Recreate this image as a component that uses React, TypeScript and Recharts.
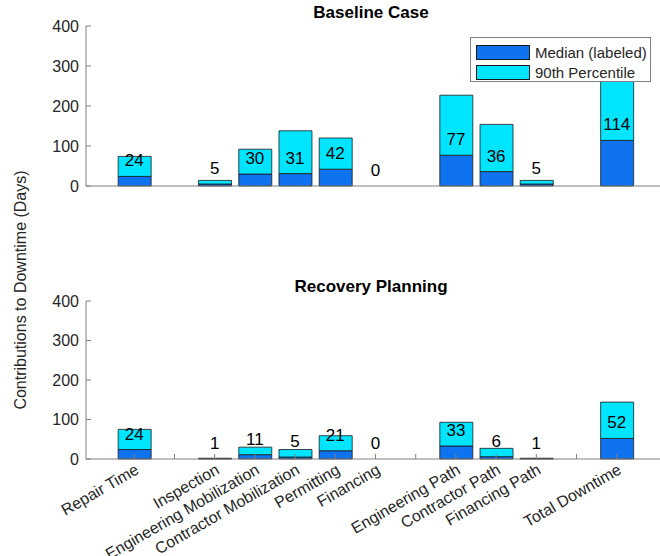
import React from 'react';
import { ComposedChart, Bar, Line, XAxis, YAxis, LabelList, Legend } from 'recharts';

const categories = [
  'Repair Time',
  'Inspection',
  'Engineering Mobilization',
  'Contractor Mobilization',
  'Permitting',
  'Financing',
  'Engineering Path',
  'Contractor Path',
  'Financing Path',
  'Total Downtime',
];
// slot on the x axis (gaps at 2, 8 and 12)
const positions = [1, 3, 4, 5, 6, 7, 9, 10, 11, 13];
const xTicks = [1, 2, 3, 4, 5, 6, 7, 8, 9, 10, 11, 12, 13];
const yTicks = [0, 100, 200, 300, 400];

const baselineMedian = [24, 5, 30, 31, 42, 0, 77, 36, 5, 114];
const baselineP90 = [74, 14, 92, 138, 120, 0, 227, 154, 14, 290];
const recoveryMedian = [24, 1, 11, 5, 21, 0, 33, 6, 1, 52];
const recoveryP90 = [75, 2, 30, 24, 59, 0, 93, 27, 2, 144];

const legendOrder = ['Median (labeled)', '90th Percentile'];

const MEDIAN_COLOR = '#0f72ee';
const P90_COLOR = '#00e5ff';
const EDGE = '#1a1a1a';
const AXIS = '#808080';
const FONT = '"Liberation Sans", Arial, sans-serif';

const buildRows = (median: number[], p90: number[]) =>
  positions.map((pos, i) => ({
    pos,
    name: categories[i],
    median: median[i],
    // the 90th percentile bar sits behind the median one, so stack the remainder
    rest: p90[i] - median[i],
  }));

const baselineData = buildRows(baselineMedian, baselineP90);
const recoveryData = buildRows(recoveryMedian, recoveryP90);

const tickName = (v: number) => {
  const i = positions.indexOf(v);
  return i >= 0 ? categories[i] : '';
};

const renderLegend = (props: any) => {
  const items = (props.payload || [])
    .filter((p: any) => legendOrder.includes(p.value))
    .sort((a: any, b: any) => legendOrder.indexOf(a.value) - legendOrder.indexOf(b.value));
  return (
    <div
      style={{
        boxSizing: 'border-box',
        width: 181,
        height: 45,
        border: `1px solid ${AXIS}`,
        background: '#fff',
        paddingTop: 4,
        paddingLeft: 5,
        fontFamily: FONT,
        fontSize: 15,
        color: '#262626',
      }}
    >
      {items.map((entry: any) => (
        <div key={entry.value} style={{ display: 'flex', alignItems: 'center', height: 20 }}>
          <span
            style={{
              boxSizing: 'border-box',
              display: 'inline-block',
              width: 54,
              height: 15,
              background: entry.color,
              border: `1px solid ${EDGE}`,
              marginRight: 5,
            }}
          />
          <span style={{ whiteSpace: 'nowrap' }}>{entry.value}</span>
        </div>
      ))}
    </div>
  );
};

interface PanelProps {
  data: ReturnType<typeof buildRows>;
  height: number;
  marginTop: number;
  marginBottom: number;
  xAxisHeight: number;
  showLabels: boolean;
  showLegend: boolean;
}

const Panel: React.FC<PanelProps> = ({ data, height, marginTop, marginBottom, xAxisHeight, showLabels, showLegend }) => (
  <ComposedChart
    width={680}
    height={height}
    data={data}
    margin={{ top: marginTop, right: 15, bottom: marginBottom, left: 0 }}
    style={{ fontFamily: FONT }}
  >
    <XAxis
      xAxisId="bottom"
      dataKey="pos"
      type="number"
      domain={[-0.2, 14.2]}
      ticks={xTicks}
      interval={0}
      height={xAxisHeight}
      stroke={AXIS}
      tickSize={-5}
      tickMargin={9}
      tickFormatter={tickName}
      angle={-30}
      tick={showLabels ? { textAnchor: 'end', fill: '#262626', fontSize: 16 } : false}
    />
    <XAxis
      xAxisId="top"
      orientation="top"
      dataKey="pos"
      type="number"
      domain={[-0.2, 14.2]}
      ticks={xTicks}
      height={0}
      stroke={AXIS}
      tickSize={-5}
      tick={false}
    />
    <YAxis
      yAxisId="left"
      domain={[0, 400]}
      ticks={yTicks}
      width={86}
      stroke={AXIS}
      tickSize={-5}
      tickMargin={12}
      tick={{ fill: '#262626', fontSize: 16 }}
    />
    <YAxis
      yAxisId="right"
      orientation="right"
      domain={[0, 400]}
      ticks={yTicks}
      width={0}
      stroke={AXIS}
      tickSize={-5}
      tick={false}
    />
    {showLegend && (
      <Legend
        layout="vertical"
        align="center"
        verticalAlign="middle"
        content={renderLegend}
        wrapperStyle={{ position: 'absolute', left: 470, top: 37, width: 181, height: 45 }}
      />
    )}
    <Bar
      xAxisId="bottom"
      yAxisId="left"
      dataKey="median"
      name="Median (labeled)"
      stackId="a"
      barSize={33}
      fill={MEDIAN_COLOR}
      stroke={EDGE}
      strokeWidth={0.8}
      isAnimationActive={false}
    />
    <Bar
      xAxisId="bottom"
      yAxisId="left"
      dataKey="rest"
      name="90th Percentile"
      stackId="a"
      barSize={33}
      fill={P90_COLOR}
      stroke={EDGE}
      strokeWidth={0.8}
      isAnimationActive={false}
    />
    {/* invisible line that only carries the median labels, so zero values get one too */}
    <Line
      xAxisId="bottom"
      yAxisId="left"
      dataKey="median"
      stroke="none"
      dot={false}
      activeDot={false}
      legendType="none"
      isAnimationActive={false}
    >
      <LabelList dataKey="median" position="top" offset={10} fill="#000" fontSize={17} />
    </Line>
  </ComposedChart>
);

const titleStyle: React.CSSProperties = {
  position: 'absolute',
  left: 271,
  width: 200,
  textAlign: 'center',
  fontWeight: 'bold',
  fontSize: 17,
  lineHeight: '18px',
  color: '#000',
  whiteSpace: 'nowrap',
};

export default function App() {
  return (
    <div
      style={{
        position: 'absolute',
        left: 0,
        top: 0,
        width: 660,
        height: 556,
        overflow: 'hidden',
        background: '#fff',
        fontFamily: FONT,
      }}
    >
      <div style={{ position: 'absolute', left: 0, top: 0 }}>
        <Panel
          data={baselineData}
          height={200}
          marginTop={26}
          marginBottom={13}
          xAxisHeight={1}
          showLabels={false}
          showLegend
        />
      </div>
      <div style={{ position: 'absolute', left: 0, top: 270 }}>
        <Panel
          data={recoveryData}
          height={286}
          marginTop={31}
          marginBottom={0}
          xAxisHeight={97}
          showLabels
          showLegend={false}
        />
      </div>
      <div style={{ ...titleStyle, top: 4 }}>Baseline Case</div>
      <div style={{ ...titleStyle, top: 278 }}>Recovery Planning</div>
      <div
        style={{
          position: 'absolute',
          left: 21 - 150,
          top: 290 - 10,
          width: 300,
          height: 20,
          lineHeight: '20px',
          textAlign: 'center',
          fontSize: 16,
          color: '#262626',
          transform: 'rotate(-90deg)',
          whiteSpace: 'nowrap',
        }}
      >
        Contributions to Downtime (Days)
      </div>
    </div>
  );
}
